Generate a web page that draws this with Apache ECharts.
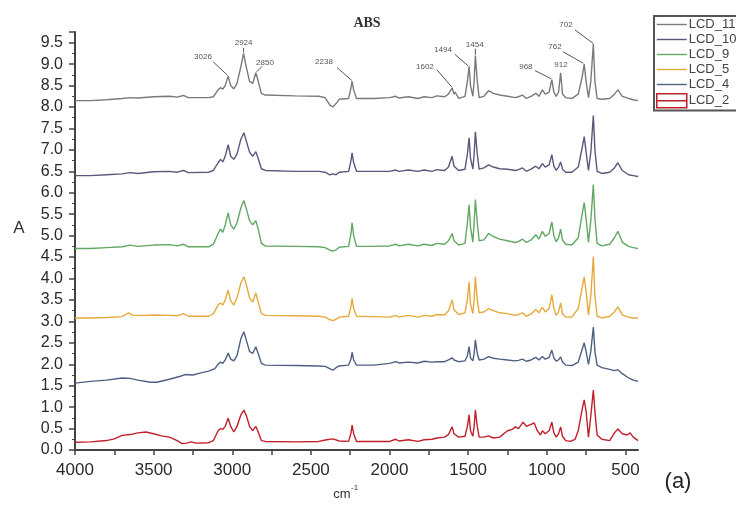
<!DOCTYPE html>
<html><head><meta charset="utf-8">
<script src="https://cdn.jsdelivr.net/npm/echarts@6/dist/echarts.min.js"></script>
<style>html,body{margin:0;padding:0;background:#fff}#c{width:736px;height:506px}</style>
</head><body><div id="c"></div>
<script>
const seriesNames = ['LCD_11','LCD_10','LCD_9','LCD_5','LCD_4','LCD_2'];
const seriesColors = ['#7a7a7a','#58587c','#62a862','#e6aa3c','#4f5f82','#c21f2c'];

const lcd11 = [[4000,8.15],[3900,8.15],[3800,8.17],[3700,8.2],[3650,8.22],[3600,8.21],[3500,8.24],[3400,8.25],[3350,8.23],[3310,8.27],[3280,8.22],[3150,8.22],[3120,8.24],[3090,8.4],[3075,8.45],[3060,8.42],[3045,8.5],[3026,8.72],[3010,8.5],[2990,8.42],[2970,8.55],[2945,8.95],[2928,9.25],[2912,8.95],[2890,8.6],[2870,8.55],[2850,8.8],[2835,8.6],[2815,8.32],[2790,8.28],[2600,8.26],[2450,8.25],[2410,8.22],[2380,8.05],[2360,8.0],[2340,8.08],[2320,8.18],[2260,8.2],[2245,8.45],[2238,8.6],[2228,8.4],[2210,8.2],[2100,8.2],[2000,8.22],[1960,8.25],[1940,8.21],[1880,8.24],[1820,8.2],[1780,8.24],[1730,8.22],[1700,8.26],[1650,8.24],[1625,8.3],[1602,8.45],[1590,8.3],[1583,8.35],[1560,8.2],[1520,8.25],[1505,8.6],[1494,8.95],[1485,8.5],[1470,8.25],[1462,8.6],[1454,9.2],[1442,8.6],[1430,8.22],[1400,8.25],[1370,8.38],[1340,8.32],[1300,8.28],[1250,8.25],[1200,8.22],[1180,8.24],[1155,8.28],[1130,8.2],[1100,8.25],[1070,8.32],[1050,8.25],[1028,8.4],[1010,8.3],[985,8.35],[968,8.64],[955,8.35],[940,8.25],[925,8.35],[912,8.8],[900,8.3],[880,8.22],[840,8.2],[800,8.3],[775,8.7],[762,9.0],[750,8.6],[735,8.22],[720,8.6],[704,9.47],[694,8.6],[680,8.2],[650,8.18],[600,8.2],[570,8.3],[548,8.4],[520,8.25],[480,8.2],[450,8.17],[420,8.15]];

const lcd10 = [[4000,6.4],[3900,6.4],[3800,6.42],[3700,6.44],[3650,6.47],[3600,6.45],[3500,6.49],[3400,6.5],[3350,6.48],[3310,6.52],[3280,6.47],[3150,6.48],[3120,6.52],[3090,6.7],[3075,6.78],[3060,6.72],[3045,6.85],[3026,7.12],[3010,6.85],[2990,6.78],[2970,6.9],[2945,7.25],[2926,7.4],[2910,7.2],[2890,6.95],[2870,6.85],[2850,6.96],[2835,6.8],[2815,6.56],[2790,6.52],[2600,6.5],[2450,6.5],[2410,6.48],[2380,6.42],[2360,6.44],[2340,6.42],[2320,6.48],[2260,6.5],[2245,6.75],[2238,6.93],[2228,6.7],[2210,6.5],[2100,6.5],[2000,6.5],[1960,6.53],[1940,6.5],[1880,6.53],[1820,6.5],[1780,6.53],[1730,6.5],[1700,6.54],[1650,6.52],[1625,6.6],[1602,6.85],[1590,6.62],[1583,6.65],[1560,6.52],[1520,6.55],[1505,6.9],[1494,7.28],[1485,6.8],[1470,6.55],[1462,6.9],[1454,7.42],[1442,6.9],[1430,6.55],[1400,6.58],[1370,6.65],[1340,6.6],[1300,6.56],[1250,6.55],[1200,6.52],[1180,6.54],[1155,6.58],[1130,6.5],[1100,6.55],[1070,6.62],[1050,6.56],[1028,6.68],[1010,6.6],[985,6.65],[968,6.89],[955,6.62],[940,6.52],[925,6.6],[912,6.72],[900,6.55],[880,6.48],[840,6.48],[800,6.6],[775,7.05],[762,7.31],[750,6.95],[735,6.52],[720,6.95],[704,7.8],[694,7.0],[680,6.5],[650,6.45],[600,6.48],[570,6.58],[548,6.7],[520,6.52],[480,6.42],[450,6.4],[420,6.38]];

const lcd9 = [[4000,4.7],[3900,4.7],[3800,4.72],[3700,4.74],[3650,4.78],[3600,4.75],[3500,4.78],[3400,4.79],[3350,4.76],[3310,4.8],[3280,4.74],[3150,4.74],[3120,4.8],[3090,5.05],[3075,5.15],[3060,5.08],[3045,5.25],[3026,5.53],[3010,5.25],[2990,5.15],[2970,5.3],[2945,5.65],[2926,5.82],[2910,5.62],[2890,5.35],[2870,5.25],[2850,5.35],[2835,5.15],[2815,4.82],[2790,4.76],[2600,4.75],[2450,4.74],[2410,4.72],[2380,4.66],[2360,4.64],[2340,4.67],[2320,4.73],[2260,4.75],[2245,5.05],[2238,5.3],[2228,5.0],[2210,4.75],[2100,4.75],[2000,4.76],[1960,4.8],[1940,4.76],[1880,4.8],[1820,4.76],[1780,4.8],[1730,4.77],[1700,4.82],[1650,4.8],[1625,4.88],[1602,5.05],[1590,4.88],[1583,4.9],[1560,4.78],[1520,4.82],[1505,5.3],[1494,5.72],[1485,5.2],[1470,4.85],[1462,5.3],[1454,5.84],[1442,5.3],[1430,4.88],[1400,4.9],[1370,5.05],[1340,4.98],[1300,4.92],[1250,4.88],[1200,4.84],[1180,4.86],[1155,4.92],[1130,4.84],[1100,4.9],[1070,5.02],[1050,4.92],[1028,5.1],[1010,4.98],[985,5.05],[968,5.32],[955,5.0],[940,4.86],[925,4.95],[912,5.15],[900,4.9],[880,4.8],[840,4.78],[800,4.95],[775,5.5],[762,5.77],[750,5.4],[735,4.85],[720,5.35],[704,6.19],[694,5.4],[680,4.82],[650,4.76],[600,4.8],[570,4.95],[548,5.1],[520,4.85],[480,4.75],[450,4.72],[420,4.7]];

const lcd5 = [[4000,3.08],[3900,3.08],[3800,3.09],[3700,3.11],[3660,3.2],[3630,3.14],[3550,3.14],[3500,3.15],[3400,3.14],[3350,3.13],[3310,3.18],[3280,3.12],[3150,3.12],[3120,3.18],[3090,3.38],[3075,3.43],[3060,3.38],[3045,3.5],[3026,3.73],[3010,3.48],[2990,3.38],[2970,3.55],[2945,3.9],[2926,4.04],[2910,3.85],[2890,3.55],[2870,3.45],[2850,3.66],[2835,3.45],[2815,3.18],[2790,3.14],[2600,3.13],[2450,3.12],[2410,3.1],[2380,3.04],[2360,3.02],[2340,3.05],[2320,3.1],[2260,3.12],[2245,3.35],[2238,3.54],[2228,3.3],[2210,3.12],[2100,3.11],[2000,3.1],[1960,3.14],[1940,3.1],[1880,3.14],[1820,3.1],[1780,3.14],[1730,3.12],[1700,3.16],[1650,3.15],[1625,3.25],[1602,3.5],[1590,3.27],[1583,3.3],[1560,3.16],[1520,3.2],[1505,3.5],[1494,3.92],[1485,3.4],[1470,3.18],[1462,3.5],[1454,4.04],[1442,3.5],[1430,3.2],[1400,3.22],[1370,3.3],[1340,3.25],[1300,3.2],[1250,3.18],[1200,3.14],[1180,3.16],[1155,3.2],[1130,3.12],[1100,3.17],[1070,3.28],[1050,3.2],[1028,3.33],[1010,3.22],[985,3.3],[968,3.62],[955,3.3],[940,3.14],[925,3.22],[912,3.43],[900,3.18],[880,3.1],[840,3.1],[800,3.3],[775,3.8],[762,4.04],[750,3.7],[735,3.15],[720,3.6],[704,4.51],[694,3.6],[680,3.12],[650,3.08],[600,3.12],[570,3.22],[548,3.34],[520,3.15],[480,3.1],[450,3.08],[420,3.08]];

const lcd4 = [[4000,1.56],[3900,1.6],[3800,1.63],[3700,1.68],[3650,1.67],[3600,1.63],[3520,1.58],[3480,1.58],[3400,1.65],[3330,1.72],[3300,1.76],[3250,1.75],[3200,1.8],[3150,1.84],[3110,1.9],[3090,2.0],[3075,2.05],[3060,2.02],[3045,2.1],[3026,2.26],[3010,2.12],[2990,2.08],[2970,2.2],[2945,2.6],[2926,2.76],[2910,2.55],[2890,2.3],[2870,2.25],[2850,2.41],[2835,2.25],[2815,2.02],[2790,1.98],[2600,1.97],[2450,1.96],[2410,1.95],[2380,1.9],[2360,1.86],[2340,1.92],[2320,1.96],[2260,1.98],[2245,2.12],[2238,2.28],[2228,2.1],[2210,1.98],[2100,1.98],[2000,2.02],[1960,2.06],[1940,2.03],[1880,2.05],[1820,2.03],[1780,2.07],[1730,2.05],[1700,2.06],[1650,2.06],[1625,2.1],[1602,2.15],[1590,2.1],[1560,2.06],[1520,2.08],[1505,2.2],[1494,2.41],[1485,2.15],[1470,2.08],[1462,2.25],[1454,2.57],[1442,2.25],[1430,2.1],[1400,2.12],[1370,2.18],[1340,2.14],[1300,2.12],[1250,2.1],[1200,2.08],[1180,2.09],[1155,2.12],[1130,2.07],[1100,2.1],[1070,2.16],[1050,2.1],[1028,2.18],[1010,2.12],[985,2.16],[968,2.33],[955,2.15],[940,2.07],[925,2.1],[912,2.17],[900,2.05],[880,1.98],[840,1.97],[800,2.05],[775,2.35],[762,2.5],[750,2.3],[735,2.0],[720,2.3],[704,2.87],[694,2.3],[680,1.98],[650,1.92],[600,1.88],[570,1.85],[548,1.87],[520,1.78],[480,1.68],[450,1.63],[420,1.6]];

const lcd2 = [[4000,0.18],[3900,0.19],[3800,0.22],[3750,0.26],[3700,0.34],[3650,0.36],[3600,0.4],[3550,0.42],[3500,0.38],[3450,0.33],[3400,0.3],[3350,0.22],[3320,0.15],[3290,0.16],[3260,0.19],[3230,0.16],[3150,0.17],[3120,0.22],[3090,0.45],[3075,0.5],[3060,0.48],[3045,0.55],[3026,0.74],[3010,0.55],[2990,0.42],[2970,0.55],[2945,0.82],[2926,0.93],[2910,0.8],[2890,0.55],[2870,0.45],[2850,0.55],[2835,0.42],[2815,0.22],[2790,0.2],[2600,0.19],[2450,0.2],[2400,0.24],[2360,0.26],[2320,0.21],[2260,0.2],[2245,0.4],[2238,0.58],[2228,0.38],[2210,0.2],[2100,0.2],[2000,0.2],[1960,0.25],[1940,0.21],[1880,0.24],[1820,0.2],[1780,0.24],[1730,0.25],[1700,0.28],[1650,0.3],[1625,0.36],[1602,0.54],[1590,0.38],[1560,0.3],[1520,0.32],[1505,0.55],[1494,0.82],[1485,0.45],[1470,0.32],[1462,0.55],[1454,0.93],[1442,0.55],[1430,0.3],[1400,0.3],[1370,0.33],[1340,0.28],[1300,0.3],[1250,0.45],[1220,0.48],[1200,0.54],[1180,0.5],[1150,0.65],[1130,0.55],[1100,0.6],[1080,0.63],[1060,0.45],[1040,0.35],[1028,0.45],[1010,0.38],[985,0.45],[968,0.65],[955,0.4],[940,0.3],[925,0.38],[912,0.54],[900,0.32],[880,0.22],[850,0.2],[820,0.25],[800,0.45],[775,0.95],[762,1.17],[750,0.9],[735,0.3],[720,0.8],[704,1.4],[694,0.9],[680,0.35],[650,0.25],[600,0.22],[570,0.4],[548,0.49],[520,0.38],[490,0.35],[470,0.4],[450,0.3],[420,0.22]];

const seriesData = [lcd11, lcd10, lcd9, lcd5, lcd4, lcd2];

const xLabelValues = [4000,3500,3000,2500,2000,1500,1000,500];
const xTickValues = [4000,3750,3500,3250,3000,2750,2500,2250,2000,1750,1500,1250,1000,750,500];

const peakLabels = ['3026','2924','2850','2238','1602','1494','1454','968','912','762','702'];
const peakTextAt = [[3186,9.17],[2928,9.5],[2792,9.03],[2417,9.06],[1775,8.94],[1660,9.34],[1458,9.46],[1133,8.94],[910,8.99],[948,9.41],[878,9.92]];
const peakLineFrom = [[3123,9.06],[2928,9.38],[2810,8.95],[2334,8.92],[1699,8.87],[1585,9.23],[1454,9.36],[1075,8.85],null,[897,9.29],[821,9.8]];
const peakLineTo = [[3030,8.74],[2928,9.27],[2845,8.82],[2240,8.62],[1605,8.47],[1500,8.96],[1454,9.22],[972,8.66],null,[768,9.02],[704,9.48]];

const chart = echarts.init(document.getElementById('c'));
const baseFont = 'Liberation Sans, Arial, sans-serif';
const legendData = seriesNames.map((n, i) => n === 'LCD_2'
  ? {name: n, icon: 'path://M0,0L30,0L30,14L0,14Z M0,7L30,7', itemStyle: {color: 'rgba(0,0,0,0)', borderColor: seriesColors[i], borderWidth: 1.5}}
  : {name: n, icon: 'path://M0,6.3L30,6.3L30,7.7L0,7.7Z', itemStyle: {color: seriesColors[i], borderWidth: 0}});

chart.setOption({
  animation: false,
  backgroundColor: '#fff',
  grid: {left: 75, right: 98, top: 32, bottom: 56},
  legend: {
    orient: 'vertical', left: 654, top: 16, padding: [2, 6, 2, 2], itemGap: 2,
    itemWidth: 30, itemHeight: 14, borderColor: '#555', borderWidth: 2,
    textStyle: {fontSize: 13, color: '#444', fontFamily: baseFont, padding: [0, 0, 0, -3]},
    data: legendData
  },
  xAxis: {
    type: 'value', inverse: true, min: 420, max: 4000,
    axisLine: {show: true, onZero: false, lineStyle: {color: '#444', width: 2}},
    axisTick: {show: true, customValues: xTickValues, length: 5, lineStyle: {color: '#444', width: 1.5}},
    axisLabel: {customValues: xLabelValues, formatter: v => String(v), margin: 12, fontSize: 17, color: '#2a2a2a', fontFamily: baseFont},
    splitLine: {show: false}
  },
  yAxis: {
    type: 'value', min: 0, max: 9.75, interval: 0.5,
    axisLine: {show: true, lineStyle: {color: '#444', width: 2}},
    axisTick: {show: true, length: 6, lineStyle: {color: '#444', width: 1.5}},
    minorTick: {show: true, splitNumber: 2, length: 3, lineStyle: {color: '#444', width: 1}},
    axisLabel: {showMaxLabel: false, formatter: v => v.toFixed(1), margin: 12, fontSize: 16, color: '#2a2a2a', fontFamily: baseFont},
    splitLine: {show: false}
  },
  series: seriesData.map((d, i) => ({
    name: seriesNames[i], type: 'line', data: d, symbol: 'none',
    lineStyle: {width: 1.4, color: seriesColors[i]}, itemStyle: {color: seriesColors[i]}
  }))
});

const g = [
  {type: 'text', x: 367, y: 23, style: {text: 'ABS', align: 'center', verticalAlign: 'middle', font: 'bold 14px "Liberation Serif", serif', fill: '#333'}},
  {type: 'text', x: 19, y: 228, style: {text: 'A', align: 'center', verticalAlign: 'middle', font: '17px "Liberation Sans", sans-serif', fill: '#333'}},
  {type: 'text', x: 342, y: 494, style: {text: 'cm', align: 'center', verticalAlign: 'middle', font: '13px "Liberation Sans", sans-serif', fill: '#333'}},
  {type: 'text', x: 351, y: 488, style: {text: '-1', align: 'left', verticalAlign: 'middle', font: '8px "Liberation Sans", sans-serif', fill: '#333'}},
  {type: 'text', x: 678, y: 482, style: {text: '(a)', align: 'center', verticalAlign: 'middle', font: '22px "Liberation Sans", sans-serif', fill: '#222'}}
];
peakLabels.forEach((t, i) => {
  const p = chart.convertToPixel({gridIndex: 0}, peakTextAt[i]);
  g.push({type: 'text', x: p[0], y: p[1], z: 100, style: {text: t, align: 'center', verticalAlign: 'middle', font: '8px "Liberation Sans Narrow", "Liberation Sans", sans-serif', fill: '#555'}});
  if (peakLineFrom[i]) {
    const a = chart.convertToPixel({gridIndex: 0}, peakLineFrom[i]);
    const b = chart.convertToPixel({gridIndex: 0}, peakLineTo[i]);
    g.push({type: 'line', z: 100, shape: {x1: a[0], y1: a[1], x2: b[0], y2: b[1]}, style: {stroke: '#555', lineWidth: 1}});
  }
});
chart.setOption({graphic: g});
</script></body></html>
